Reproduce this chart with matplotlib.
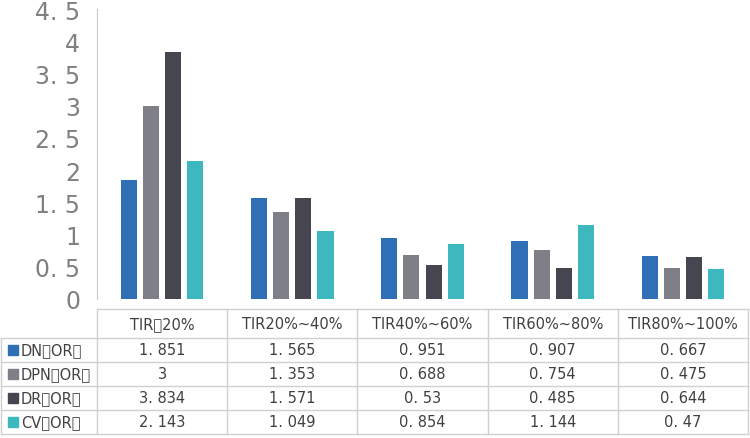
import matplotlib.pyplot as plt
import numpy as np

plt.rcParams['font.family'] = 'Noto Sans CJK SC'

categories = ['TIR＜20%', 'TIR20%~40%', 'TIR40%~60%', 'TIR60%~80%', 'TIR80%~100%']
series = ['DN（OR）', 'DPN（OR）', 'DR（OR）', 'CV（OR）']
dn = [1.851, 1.565, 0.951, 0.907, 0.667]
dpn = [3, 1.353, 0.688, 0.754, 0.475]
dr = [3.834, 1.571, 0.53, 0.485, 0.644]
cv = [2.143, 1.049, 0.854, 1.144, 0.47]
yticks = [0, 0.5, 1, 1.5, 2, 2.5, 3, 3.5, 4, 4.5]
colors = ['#2E6FB5', '#7E7F87', '#45464F', '#3DB8BF']

W, H = 750, 439
fig = plt.figure(figsize=(7.5, 4.39), dpi=100)
ax = fig.add_axes([97 / W, 1 - 300 / H, 651 / W, 290 / H])

x = np.arange(len(categories))
bw = 0.123
step = 0.17
for i, vals in enumerate([dn, dpn, dr, cv]):
    ax.bar(x + (i - 1.5) * step, vals, bw, color=colors[i])

ax.set_xlim(-0.5, len(categories) - 0.5)
ax.set_ylim(0, 4.5)
ax.set_yticks(yticks)
ax.set_yticklabels([str(t).replace('.0', '') if t == int(t) else str(t).replace('.', '. ')
                    for t in yticks], fontsize=17, color='#808080')
ax.set_xticks([])
for s in ['top', 'right', 'bottom']:
    ax.spines[s].set_visible(False)
ax.spines['left'].set_color('#C8C8C8')
ax.tick_params(axis='y', length=0, pad=12)

# table drawn in pixel coords
tx = fig.add_axes([0, 0, 1, 1])
tx.set_xlim(0, W)
tx.set_ylim(H, 0)
tx.axis('off')
lc = '#D0D0D0'
cols = [97 + 130.2 * k for k in range(6)]
rows = [310, 339, 363, 387, 411, 435]
for yy in rows[1:]:
    tx.plot([1, cols[-1]], [yy, yy], color=lc, lw=1)
tx.plot([cols[0], cols[-1]], [rows[0], rows[0]], color=lc, lw=1)
for xx in cols:
    tx.plot([xx, xx], [rows[0], rows[-1]], color=lc, lw=1)
tx.plot([1, 1], [rows[1], rows[-1]], color=lc, lw=1)

for k, c in enumerate(categories):
    tx.text((cols[k] + cols[k + 1]) / 2, (rows[0] + rows[1]) / 2, c,
            ha='center', va='center', fontsize=10.5, color='#404040')

def fmt(v):
    return str(v).replace('.', '. ')

for r, (name, vals) in enumerate(zip(series, [dn, dpn, dr, cv])):
    yc = (rows[r + 1] + rows[r + 2]) / 2
    tx.add_patch(plt.Rectangle((8, yc - 5), 10, 10, color=colors[r]))
    tx.text(21, yc, name, ha='left', va='center', fontsize=10.5, color='#404040')
    for k, v in enumerate(vals):
        tx.text((cols[k] + cols[k + 1]) / 2, yc, fmt(v),
                ha='center', va='center', fontsize=10.5, color='#404040')

fig.savefig('out.png', dpi=100)
